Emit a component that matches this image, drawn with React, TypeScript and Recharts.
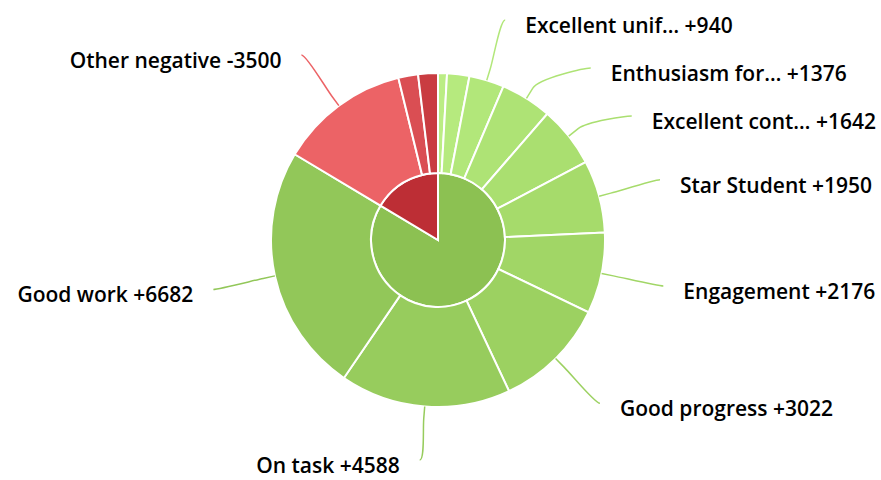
import { PieChart, Pie, Cell } from 'recharts';

// outer ring, clockwise from 12 o'clock
const names = [
  'Other positive A',
  'Other positive B',
  'Excellent unif…',
  'Enthusiasm for…',
  'Excellent cont…',
  'Star Student',
  'Engagement',
  'Good progress',
  'On task',
  'Good work',
  'Other negative',
  'Other negative B',
  'Other negative C',
];
const values = [240, 600, 940, 1376, 1642, 1950, 2176, 3022, 4588, 6682, -3500, -530, -530];

const outerColors = [
  '#BBED84', '#B6EA7E', '#B2E77A', '#AEE375', '#AADF70', '#A6DB6B',
  '#A1D666', '#9CD161', '#97CC5D', '#92C759', '#EC6366', '#DA4E53', '#C93C41',
];
const innerColors = ['#8CC152', '#BD2E35'];

const CX = 438;
const CY = 240;
const INNER_R = 67;
const OUTER_R = 167;
const LABEL_R = 230;
const GAP = 48;
const TOP = 17;
const BOTTOM = 460;
const RAD = Math.PI / 180;

const outerData = names.map((name, i) => ({ name, value: Math.abs(values[i]), signed: values[i] }));
const posTotal = values.filter((v) => v > 0).reduce((s, v) => s + v, 0);
const negTotal = values.filter((v) => v < 0).reduce((s, v) => s - v, 0);
const innerData = [
  { name: 'Positive', value: posTotal },
  { name: 'Negative', value: negTotal },
];
const total = posTotal + negTotal;

type LabelPos = { mid: number; x: number; y: number; right: boolean };

// spread labels on each side so they don't overlap (roughly what highcharts does)
function layoutLabels(): Record<number, LabelPos> {
  let cum = 0;
  const items = outerData.map((d, i) => {
    const mid = ((cum + d.value / 2) / total) * 360;
    cum += d.value;
    return { i, mid, show: d.value >= 900 };
  });
  const out: Record<number, LabelPos> = {};
  [true, false].forEach((right) => {
    const list = items
      .filter((it) => it.show && (right ? it.mid < 180 : it.mid >= 180))
      .map((it) => ({ ...it, y: CY - LABEL_R * Math.cos(it.mid * RAD), free: 0 }))
      .sort((a, b) => a.y - b.y);
    for (let k = 0; k < list.length; k++) {
      if (k) list[k].y = Math.max(list[k].y, list[k - 1].y + GAP);
      list[k].free = list[k].y;
    }
    // keep inside the plot
    for (let k = 0; k < list.length; k++) {
      list[k].y = Math.max(list[k].y, k ? list[k - 1].y + GAP : TOP);
    }
    for (let k = list.length - 1; k >= 0; k--) {
      list[k].y = Math.min(list[k].y, k < list.length - 1 ? list[k + 1].y - GAP : BOTTOM);
    }
    list.forEach((it) => {
      const dy = it.free - CY;
      const dx = Math.sqrt(Math.max(0, LABEL_R * LABEL_R - dy * dy));
      out[it.i] = { mid: it.mid, x: CX + (right ? dx : -dx), y: it.y, right };
    });
  });
  return out;
}

const labelPos = layoutLabels();

function SliceLabel(props: any) {
  const pos = labelPos[props.index];
  if (!pos) return null;
  const d = outerData[props.index];
  const color = outerColors[props.index];
  const s = Math.sin(pos.mid * RAD);
  const c = Math.cos(pos.mid * RAD);
  const tx = CX + OUTER_R * s;
  const ty = CY - OUTER_R * c;
  const bx = CX + (OUTER_R + 12) * s;
  const by = CY - (OUTER_R + 12) * c;
  const dir = pos.right ? 1 : -1;
  const path = `M${pos.x},${pos.y} C${pos.x - 5 * dir},${pos.y} ${2 * bx - tx},${2 * by - ty} ${bx},${by} L${tx},${ty}`;
  const text = `${d.name} ${d.signed > 0 ? '+' : ''}${d.signed}`;
  return (
    <g>
      <path d={path} fill="none" stroke={color} strokeWidth={1.5} />
      <text
        x={pos.x + 20 * dir}
        y={pos.y + 13}
        textAnchor={pos.right ? 'start' : 'end'}
        fill="#000"
        fontSize={21}
        fontWeight={600}
        fontFamily="'Open Sans', sans-serif"
      >
        {text}
      </text>
    </g>
  );
}

export default function App() {
  return (
    <div style={{ position: 'absolute', left: 0, top: 0, background: '#fff' }}>
      <PieChart width={881} height={480} margin={{ top: 0, right: 0, bottom: 0, left: 0 }}>
        <Pie
          data={innerData}
          dataKey="value"
          cx={CX}
          cy={CY}
          outerRadius={INNER_R}
          startAngle={90}
          endAngle={-270}
          stroke="#fff"
          strokeWidth={2}
          isAnimationActive={false}
        >
          {innerData.map((d, i) => (
            <Cell key={d.name} fill={innerColors[i]} />
          ))}
        </Pie>
        <Pie
          data={outerData}
          dataKey="value"
          cx={CX}
          cy={CY}
          innerRadius={INNER_R}
          outerRadius={OUTER_R}
          startAngle={90}
          endAngle={-270}
          stroke="#fff"
          strokeWidth={2}
          label={SliceLabel}
          labelLine={false}
          isAnimationActive={false}
        >
          {outerData.map((d, i) => (
            <Cell key={d.name} fill={outerColors[i]} />
          ))}
        </Pie>
      </PieChart>
    </div>
  );
}
